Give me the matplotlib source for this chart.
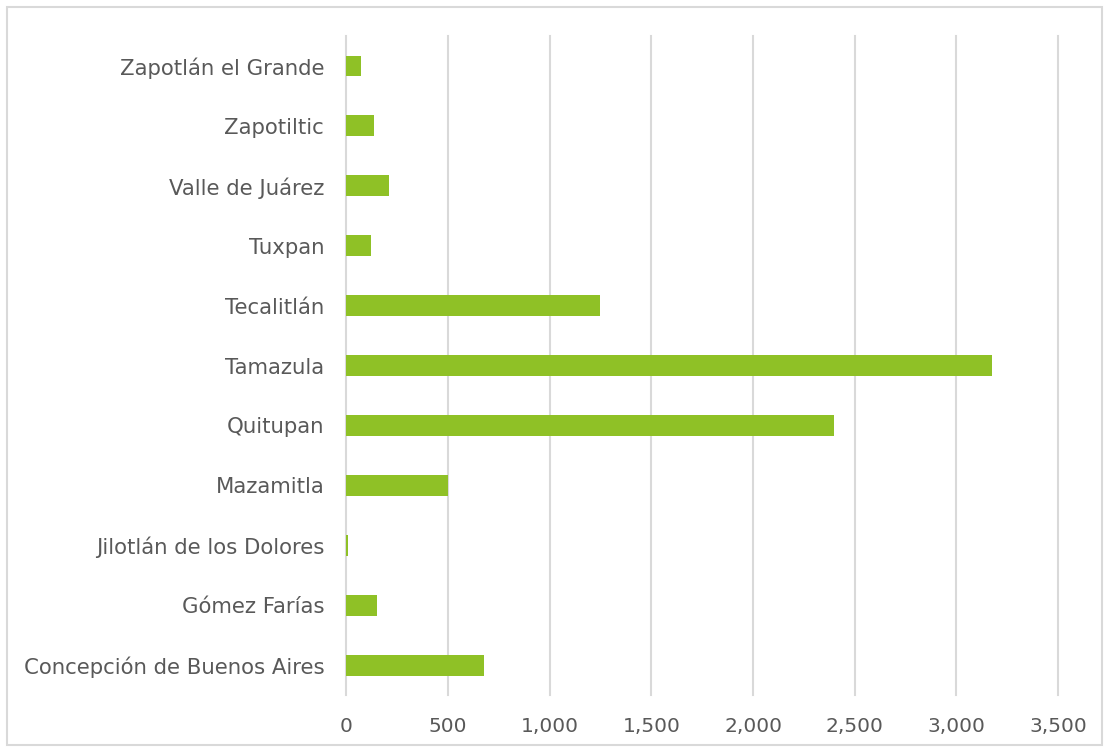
import matplotlib
matplotlib.use("Agg")
import matplotlib.pyplot as plt
from matplotlib.patches import Rectangle
from matplotlib.ticker import FuncFormatter

municipios = [
    "Concepción de Buenos Aires",
    "Gómez Farías",
    "Jilotlán de los Dolores",
    "Mazamitla",
    "Quitupan",
    "Tamazula",
    "Tecalitlán",
    "Tuxpan",
    "Valle de Juárez",
    "Zapotiltic",
    "Zapotlán el Grande",
]
valores = [678, 148, 6, 497, 2397, 3177, 1246, 120, 207, 137, 73]
x_ticks = [0, 500, 1000, 1500, 2000, 2500, 3000, 3500]

text_color = "#595959"
grid_color = "#D9D9D9"
bar_color = "#8FC126"

plt.rcParams["font.family"] = ["DejaVu Sans"]

fig = plt.figure(figsize=(11.08, 7.51), dpi=100)
ax = fig.add_axes([0.3127, 0.0746, 0.9549 - 0.3127, 0.952 - 0.0746])

ax.barh(range(len(municipios)), valores, height=0.35, color=bar_color, zorder=3)

ax.set_xlim(0, 3500)
ax.set_ylim(-0.5, len(municipios) - 0.5)
ax.set_xticks(x_ticks)
ax.xaxis.set_major_formatter(FuncFormatter(lambda v, p: f"{int(v):,}"))
ax.set_yticks(range(len(municipios)))
ax.set_yticklabels(municipios)

ax.grid(axis="x", color=grid_color, linewidth=1.5, zorder=0)
for gl in ax.xaxis.get_gridlines():
    gl.set_clip_on(False)
for s in ax.spines.values():
    s.set_visible(False)
ax.tick_params(axis="both", length=0, labelsize=15.3, colors=text_color)
ax.tick_params(axis="x", labelsize=14.5, pad=16)
ax.tick_params(axis="y", pad=16)

# light gray frame around the whole chart
fig.patches.append(Rectangle((7 / 1108, 6 / 751), 1095 / 1108, 738 / 751,
                             transform=fig.transFigure, fill=False,
                             edgecolor=grid_color, linewidth=1.5))

fig.savefig("out.png", dpi=100)
